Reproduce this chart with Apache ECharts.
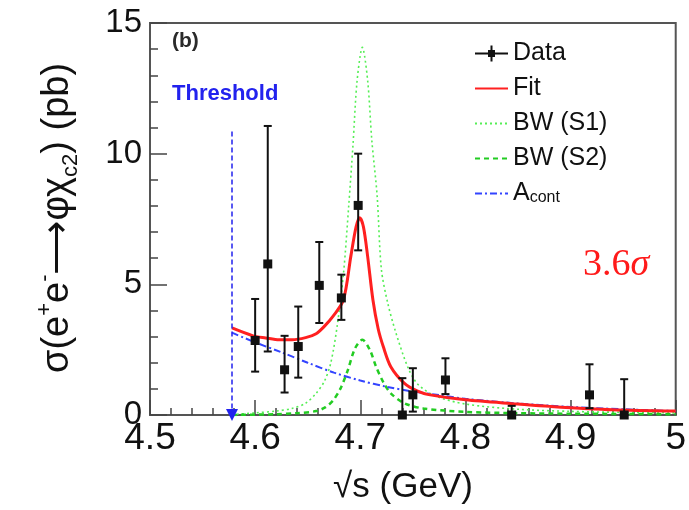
<!DOCTYPE html>
<html>
<head>
<meta charset="utf-8">
<script src="https://cdn.jsdelivr.net/npm/echarts@6/dist/echarts.min.js"></script>
<style>
  html, body { margin: 0; padding: 0; background: #fff; }
  #chart { width: 689px; height: 510px; }
</style>
</head>
<body>
<div id="chart"></div>
<script>
// measured points (GeV, pb)
const energies = [4.600, 4.612, 4.628, 4.641, 4.661, 4.682, 4.698, 4.740, 4.750, 4.781, 4.844, 4.918, 4.951];
const sigma    = [2.85, 5.78, 1.73, 2.62, 4.96, 4.48, 8.02, 0, 0.77, 1.34, 0, 0.77, 0];
const errLow   = [1.66, 2.43, 0.86, 1.43, 3.52, 3.64, 6.30, 0, 0.13, 0.80, 0, 0.26, 0];
const errHigh  = [4.44, 11.06, 3.03, 4.15, 6.62, 5.37, 10.0, 1.41, 1.79, 2.17, 0.35, 1.94, 1.37];

// fit curves
const fitX = [4.578, 4.598, 4.61, 4.623, 4.635, 4.648, 4.658, 4.666, 4.674, 4.684, 4.691, 4.696, 4.6995, 4.703, 4.707, 4.712, 4.717, 4.722, 4.729, 4.742, 4.754, 4.765, 4.8, 4.85, 4.88, 4.94, 5.0];
const fitY = [3.33, 3.03, 2.95, 2.88, 2.88, 2.96, 3.11, 3.4, 3.77, 4.41, 6.07, 7.2, 7.55, 7.2, 6.07, 4.41, 3.3, 2.6, 1.85, 1.21, 0.92, 0.78, 0.58, 0.42, 0.33, 0.2, 0.15];

const s1X = [4.578, 4.6, 4.62, 4.635, 4.648, 4.658, 4.666, 4.672, 4.678, 4.684, 4.689, 4.693, 4.697, 4.702, 4.707, 4.711, 4.716, 4.72, 4.726, 4.734, 4.745, 4.754, 4.77, 4.8, 4.85, 4.9, 4.95, 5.0];
const s1Y = [0.02, 0.08, 0.15, 0.25, 0.45, 0.83, 1.3, 2.0, 3.4, 5.4, 8.0, 10.3, 12.8, 14.07, 12.8, 10.5, 8.4, 5.6, 4.3, 3.13, 1.85, 1.21, 0.75, 0.42, 0.22, 0.14, 0.1, 0.08];

const s2X = [4.578, 4.62, 4.64, 4.658, 4.667, 4.674, 4.681, 4.688, 4.695, 4.702, 4.709, 4.715, 4.722, 4.729, 4.742, 4.76, 4.8, 4.85, 4.9, 5.0];
const s2Y = [0.0, 0.03, 0.07, 0.15, 0.3, 0.55, 1.0, 1.7, 2.55, 2.88, 2.5, 1.85, 1.25, 0.83, 0.45, 0.25, 0.12, 0.07, 0.05, 0.03];

const contX = [4.578, 4.6, 4.625, 4.65, 4.675, 4.7, 4.725, 4.75, 4.775, 4.8, 4.85, 4.9, 4.95, 5.0];
const contY = [3.15, 2.78, 2.4, 2.0, 1.62, 1.32, 1.08, 0.9, 0.76, 0.62, 0.44, 0.31, 0.22, 0.15];

const thresholdX = 4.578;
const thresholdTop = 10.85;

const FONT = "'Liberation Sans', Arial, sans-serif";
const zip = (xs, ys) => xs.map((x, i) => [x, ys[i]]);
const noSymbol = { itemStyle: { opacity: 0 } };

const chart = echarts.init(document.getElementById('chart'));

chart.setOption({
  animation: false,
  backgroundColor: '#fff',
  grid: {
    left: 150, right: 8, top: 23, bottom: 95,
    show: true, borderColor: '#555', borderWidth: 2
  },
  xAxis: {
    type: 'value',
    min: 4.5, max: 5.0, interval: 0.1,
    axisLine: { lineStyle: { color: '#555', width: 2 } },
    axisTick: { inside: true, length: 15, lineStyle: { color: '#444', width: 1.5 } },
    minorTick: { show: true, splitNumber: 5, length: 7, lineStyle: { color: '#444', width: 1.5 } },
    splitLine: { show: false },
    axisLabel: {
      fontFamily: FONT, fontSize: 37, color: '#111', margin: 5,
      formatter: v => (Math.abs(v - 5) < 1e-6 ? '5' : v.toFixed(1))
    }
  },
  yAxis: {
    type: 'value',
    min: 0, max: 15, interval: 5,
    axisLine: { show: true, lineStyle: { color: '#555', width: 2 } },
    axisTick: { inside: true, length: 17, lineStyle: { color: '#444', width: 1.5 } },
    minorTick: { show: true, splitNumber: 5, length: 8, lineStyle: { color: '#444', width: 1.5 } },
    splitLine: { show: false },
    axisLabel: { fontFamily: FONT, fontSize: 33, color: '#111', margin: 8 }
  },
  legend: {
    orient: 'vertical',
    left: 469, top: 36,
    itemWidth: 33, itemHeight: 16, itemGap: 10,
    textStyle: {
      fontFamily: FONT, fontSize: 25, lineHeight: 24, color: '#111',
      rich: { sub: { fontFamily: FONT, fontSize: 16, lineHeight: 16, verticalAlign: 'bottom' } }
    },
    formatter: name => (name === 'A_cont' ? 'A{sub|cont}' : name),
    data: [
      { name: 'Data', icon: 'path://M0,7h33v2h-33z M15.5,0h2v16h-2z M13,4.5h7v7h-7z' },
      Object.assign({ name: 'Fit' }, noSymbol),
      Object.assign({ name: 'BW (S1)' }, noSymbol),
      Object.assign({ name: 'BW (S2)' }, noSymbol),
      Object.assign({ name: 'A_cont' }, noSymbol)
    ]
  },
  graphic: [
    {
      type: 'text', x: 58, y: 218, rotation: Math.PI / 2,
      style: {
        text: '{m|σ(e}{sup|+}{m|e}{sup|-}{m|⟶φχ}{sub|c2}{m|) (pb)}',
        align: 'center', verticalAlign: 'middle', fill: '#111',
        rich: {
          m: { fontFamily: FONT, fontSize: 38, lineHeight: 48, fill: '#111' },
          sup: { fontFamily: FONT, fontSize: 22, lineHeight: 22, verticalAlign: 'top', fill: '#111' },
          sub: { fontFamily: FONT, fontSize: 22, lineHeight: 22, verticalAlign: 'bottom', fill: '#111' }
        }
      }
    },
    {
      type: 'text', x: 403, y: 487,
      style: {
        text: '√s (GeV)', align: 'center', verticalAlign: 'middle',
        fontFamily: FONT, fontSize: 35, fill: '#111'
      }
    },
    {
      type: 'text', left: 172, top: 31,
      style: { text: '(b)', font: "bold 21px 'Liberation Sans', Arial", fill: '#2a2a2a' }
    },
    {
      type: 'text', left: 172, top: 83,
      style: { text: 'Threshold', font: "bold 22px 'Liberation Sans', Arial", fill: '#2222ee' }
    },
    {
      type: 'text', left: 583, top: 246,
      style: {
        text: '{n|3.6}{i|σ}',
        rich: {
          n: { fontFamily: "'Liberation Serif', serif", fontSize: 38, fill: '#ff1a1a' },
          i: { fontFamily: "'Liberation Serif', serif", fontStyle: 'italic', fontSize: 38, fill: '#ff1a1a' }
        }
      }
    }
  ],
  series: [
    {
      name: 'BW (S1)', type: 'line', data: zip(s1X, s1Y),
      symbol: 'none', smooth: 0.3, z: 2,
      lineStyle: { color: '#55ee55', width: 1.6, type: [2, 3] },
      itemStyle: { color: '#55ee55' }
    },
    {
      name: 'BW (S2)', type: 'line', data: zip(s2X, s2Y),
      symbol: 'none', smooth: 0.3, z: 2,
      lineStyle: { color: '#22cc22', width: 2.5, type: [5, 4] },
      itemStyle: { color: '#22cc22' }
    },
    {
      name: 'A_cont', type: 'line', data: zip(contX, contY),
      symbol: 'none', smooth: 0.3, z: 3,
      lineStyle: { color: '#3344ff', width: 2, type: [7, 3, 2, 3] },
      itemStyle: { color: '#3344ff' }
    },
    {
      name: 'Fit', type: 'line', data: zip(fitX, fitY),
      symbol: 'none', smooth: 0.3, z: 4,
      lineStyle: { color: '#ff2020', width: 3 },
      itemStyle: { color: '#ff2020' }
    },
    {
      name: 'Threshold', type: 'line', data: [], z: 3,
      markLine: {
        silent: true,
        symbol: ['none', 'triangle'],
        symbolSize: 12,
        label: { show: false },
        lineStyle: { color: '#2222ee', width: 1.5, type: [5, 3] },
        data: [[{ coord: [thresholdX, thresholdTop] }, { coord: [thresholdX, 0] }]]
      }
    },
    {
      name: 'Data', type: 'custom', z: 5, clip: false,
      itemStyle: { color: '#111' },
      data: energies.map((e, i) => [e, sigma[i], errLow[i], errHigh[i]]),
      encode: { x: 0, y: 1 },
      renderItem: (params, api) => {
        const x = api.value(0);
        const p = api.coord([x, api.value(1)]);
        const lo = api.coord([x, api.value(2)]);
        const hi = api.coord([x, api.value(3)]);
        const st = { stroke: '#111', lineWidth: 2 };
        return {
          type: 'group',
          children: [
            { type: 'line', shape: { x1: p[0], y1: lo[1], x2: p[0], y2: hi[1] }, style: st },
            { type: 'line', shape: { x1: p[0] - 4, y1: hi[1], x2: p[0] + 4, y2: hi[1] }, style: st },
            { type: 'line', shape: { x1: p[0] - 4, y1: lo[1], x2: p[0] + 4, y2: lo[1] }, style: st },
            { type: 'rect', shape: { x: p[0] - 4.5, y: p[1] - 4.5, width: 9, height: 9 }, style: { fill: '#111' } }
          ]
        };
      }
    }
  ]
});
</script>
</body>
</html>
